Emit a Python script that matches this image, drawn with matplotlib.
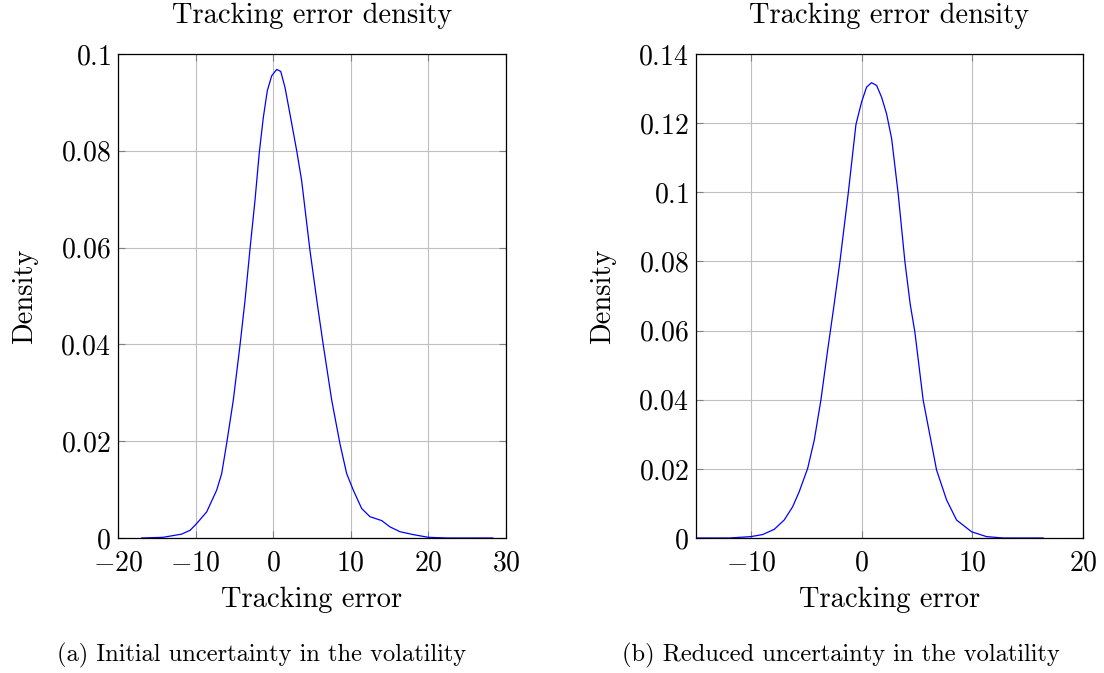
import matplotlib
matplotlib.use("Agg")
import matplotlib.pyplot as plt

# density curves
err_a = [-16.95, -14.2, -11.8, -10.7, -9.86, -8.57, -7.28, -6.64, -6.0, -5.14,
         -4.28, -3.63, -2.99, -2.35, -1.79, -1.27, -0.76, -0.19, 0.45, 0.97,
         1.52, 2.16, 3.03, 3.67, 4.74, 5.7, 6.46, 7.54, 8.6, 9.47, 10.32, 11.4,
         12.47, 13.98, 15.05, 16.34, 18.05, 20.0, 22.4, 28.3]
dens_a = [0, 0.00014, 0.0008, 0.0016, 0.003, 0.0054, 0.0099, 0.0133, 0.0195, 0.0285,
          0.0398, 0.0491, 0.0597, 0.0697, 0.0797, 0.0869, 0.0924, 0.0955, 0.0968,
          0.0964, 0.0931, 0.0876, 0.080, 0.0738, 0.0594, 0.0482, 0.0398, 0.0285,
          0.0195, 0.0133, 0.0099, 0.0061, 0.0044, 0.0036, 0.0023, 0.0013, 0.0007,
          0.00014, 0, 0]

err_b = [-15, -12, -10.03, -8.97, -7.92, -7.02, -6.26, -5.66, -4.9, -4.3, -3.7,
         -3.09, -2.5, -1.98, -1.23, -0.53, -0.02, 0.43, 0.88, 1.34, 1.79, 2.24,
         2.7, 3.29, 3.9, 4.38, 4.8, 5.55, 6.76, 7.67, 8.57, 9.93, 11.28, 12.79, 16.4]
dens_b = [0, 0, 0.0004, 0.001, 0.0025, 0.0052, 0.009, 0.0134, 0.0201, 0.0283, 0.0399,
          0.0543, 0.0676, 0.0799, 0.0996, 0.1196, 0.1261, 0.1304, 0.1317, 0.1309,
          0.1275, 0.1227, 0.1155, 0.0996, 0.0799, 0.0676, 0.0596, 0.0399, 0.0197,
          0.011, 0.0052, 0.0018, 0.0004, 0, 0]

xticks_a = [-20, -10, 0, 10, 20, 30]
yticks_a = [0, 0.02, 0.04, 0.06, 0.08, 0.1]
ylabels_a = ["0", "0.02", "0.04", "0.06", "0.08", "0.1"]
xticks_b = [-10, 0, 10, 20]
yticks_b = [0, 0.02, 0.04, 0.06, 0.08, 0.1, 0.12, 0.14]
ylabels_b = ["0", "0.02", "0.04", "0.06", "0.08", "0.1", "0.12", "0.14"]

captions = ["(a) Initial uncertainty in the volatility",
            "(b) Reduced uncertainty in the volatility"]

plt.rcParams["font.family"] = "cmr10"
plt.rcParams["mathtext.fontset"] = "cm"
plt.rcParams["axes.unicode_minus"] = True

fig = plt.figure(figsize=(11.04, 6.73), dpi=100)
ax1 = fig.add_axes([0.1069, 0.2006, 0.3514, 0.7192])
ax2 = fig.add_axes([0.6304, 0.2006, 0.3505, 0.7192])


def setup(ax, x, y, xlim, ylim, xt, yt, ylab):
    ax.plot(x, y, color="blue", lw=0.9)
    ax.set_xlim(xlim)
    ax.set_ylim(ylim)
    ax.set_xticks(xt)
    ax.set_xticklabels(["$%d$" % v for v in xt])
    ax.set_yticks(yt)
    ax.set_yticklabels(["$%s$" % s for s in ylab])
    ax.grid(True, color="#bfbfbf", lw=0.8)
    ax.set_axisbelow(True)
    ax.tick_params(direction="in", length=5, width=0.8, color="#7f7f7f",
                   top=True, right=True, labelsize=20, pad=5)
    ax.tick_params(axis="x", pad=9)
    for s in ax.spines.values():
        s.set_linewidth(0.9)
    ax.set_title("Tracking error density", fontsize=20.5, pad=22)
    ax.set_xlabel("Tracking error", fontsize=20.5, labelpad=7)
    ax.set_ylabel("Density", fontsize=20.5, labelpad=16)


setup(ax1, err_a, dens_a, (-20, 30), (0, 0.1), xticks_a, yticks_a, ylabels_a)
setup(ax2, err_b, dens_b, (-15, 20), (0, 0.14), xticks_b, yticks_b, ylabels_b)

fig.text(262 / 1104, 1 - 655 / 673, captions[0], ha="center", va="center", fontsize=17.6)
fig.text(841 / 1104, 1 - 655 / 673, captions[1], ha="center", va="center", fontsize=17.6)

fig.savefig("out.png", dpi=100)
